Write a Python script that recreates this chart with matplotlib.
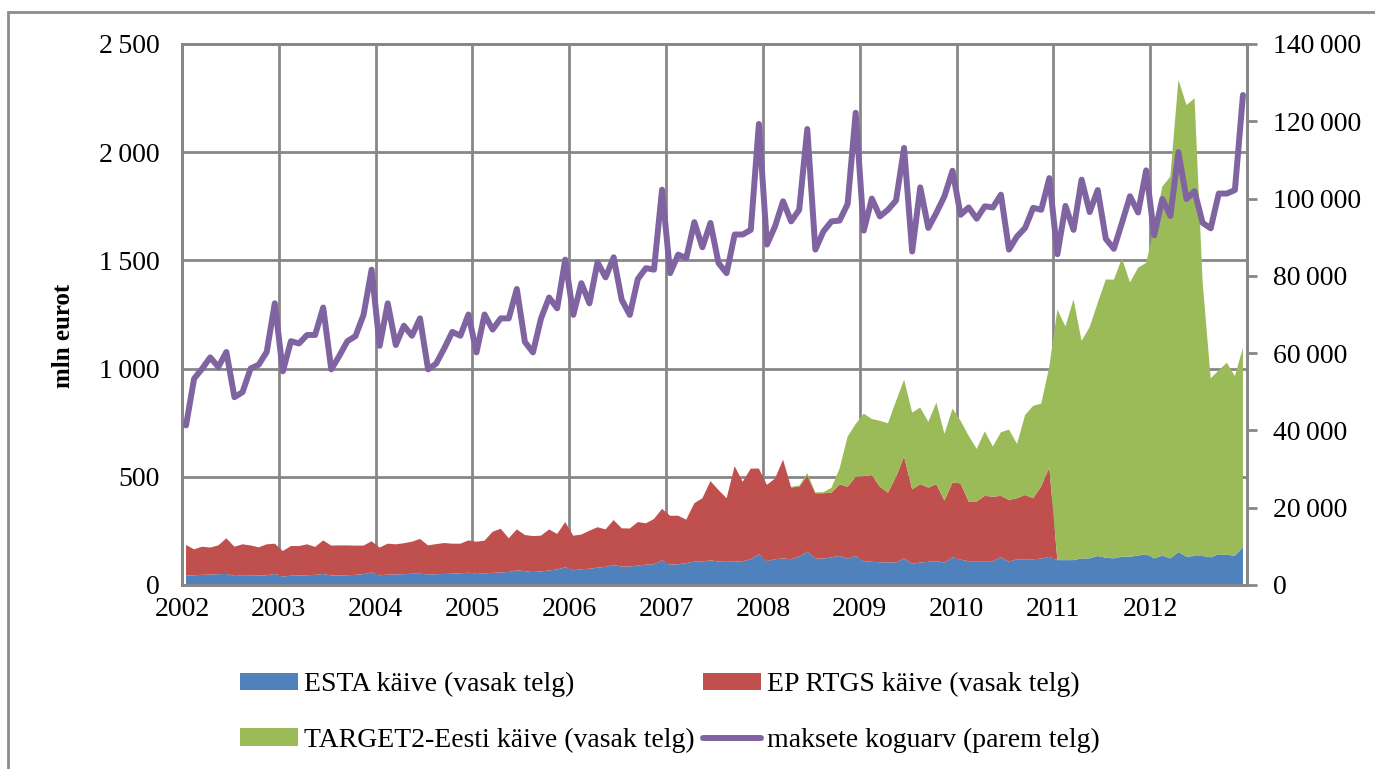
import matplotlib
matplotlib.use("Agg")
import matplotlib.pyplot as plt
from matplotlib.patches import Patch, Rectangle
from matplotlib.lines import Line2D
from matplotlib.ticker import FuncFormatter

plt.rcParams['font.family'] = ['Liberation Serif', 'DejaVu Serif']

years = ["2002", "2003", "2004", "2005", "2006", "2007",
         "2008", "2009", "2010", "2011", "2012"]

# monthly turnover, mln eurot (left axis)
esta = [43, 45, 47, 48, 50, 51, 42, 43, 43, 44, 45, 51,
        39, 43, 44, 45, 47, 51, 44, 44, 45, 47, 50, 58,
        45, 48, 49, 50, 52, 52, 49, 50, 51, 52, 54, 57,
        51, 54, 56, 58, 60, 68, 64, 60, 63, 67, 72, 82,
        68, 73, 75, 80, 84, 92, 85, 85, 90, 94, 96, 114,
        94, 96, 101, 108, 108, 114, 108, 107, 108, 110, 119, 142,
        110, 119, 123, 119, 131, 154, 122, 122, 128, 134, 122, 134,
        110, 107, 105, 105, 104, 123, 98, 104, 107, 110, 104, 128,
        117, 110, 110, 110, 110, 128, 108, 119, 119, 119, 122, 130,
        115, 115, 115, 123, 123, 134, 126, 123, 131, 131, 136, 142,
        123, 136, 123, 152, 131, 134, 134, 128, 142, 139, 136, 174]

ep_rtgs = [142, 120, 130, 125, 133, 165, 135, 145, 140, 130, 143, 140,
           118, 137, 136, 143, 129, 155, 138, 139, 138, 135, 132, 144,
           128, 143, 139, 143, 148, 161, 134, 139, 143, 139, 137, 149,
           149, 151, 190, 202, 156, 189, 167, 166, 165, 190, 164, 209,
           160, 160, 176, 187, 173, 208, 177, 176, 201, 191, 209, 238,
           226, 224, 201, 270, 293, 366, 331, 294, 441, 367, 419, 396,
           353, 373, 456, 332, 323, 351, 302, 302, 299, 331, 332, 366,
           393, 401, 349, 322, 396, 471, 344, 362, 343, 356, 286, 346,
           352, 276, 276, 302, 298, 284, 285, 282, 297, 282, 335, 413,
           0, 0, 0, 0, 0, 0, 0, 0, 0, 0, 0, 0,
           0, 0, 0, 0, 0, 0, 0, 0, 0, 0, 0, 0]

target2 = [0] * 72 + [
    0, 0, 0, 3, 5, 12, 4, 5, 22, 73, 232, 244,
    289, 259, 305, 320, 350, 355, 355, 354, 304, 377, 308, 341,
    290, 304, 243, 298, 232, 294, 325, 251, 370, 427, 381, 467,
    1157, 1080, 1205, 1005, 1069, 1170, 1286, 1288, 1379, 1267, 1330, 1347,
    1527, 1705, 1764, 2182, 2087, 2115, 1266, 827, 850, 888, 829, 922]

# number of payments (right axis)
koguarv = [41300, 53400, 56000, 58900, 56400, 60300, 48600, 49900, 56000, 57000, 60300, 72900,
           55300, 63100, 62500, 64700, 64700, 71800, 55800, 59300, 63100, 64400, 69900, 81600,
           61900, 72900, 62100, 67100, 64500, 69000, 55800, 57300, 61200, 65500, 64500, 70000,
           60200, 70000, 66100, 69000, 69000, 76600, 62900, 60200, 69000, 74400, 71600, 84200,
           69900, 78100, 72900, 83500, 79600, 84800, 73800, 69900, 79200, 82000, 81600, 102300,
           80700, 85500, 84600, 93900, 87400, 93700, 83300, 80700, 90700, 90700, 91900, 119300,
           88100, 92800, 99300, 94100, 97100, 118000, 86800, 91500, 94100, 94300, 98600, 122200,
           91700, 100000, 95400, 97100, 99500, 113100, 86300, 102900, 92400, 96300, 100600, 107200,
           95800, 97700, 94800, 98000, 97700, 101000, 86800, 90200, 92400, 97600, 97100, 105300,
           85600, 98100, 91900, 104900, 96500, 102200, 89600, 87000, 93700, 100600, 96400, 107300,
           90500, 99900, 95500, 112000, 99900, 101900, 93700, 92300, 101300, 101300, 102200, 126800]

c_blue = "#4F81BD"
c_red = "#C0504D"
c_green = "#9BBB59"
c_purple = "#8064A2"
c_grid = "#878787"

x = [i + 0.5 for i in range(len(esta))]

fig = plt.figure(figsize=(13.75, 7.69), dpi=100)
ax = fig.add_axes([182 / 1375, 1 - 585 / 769, 1065 / 1375, 541 / 769])

ax.stackplot(x, esta, ep_rtgs, target2, colors=[c_blue, c_red, c_green],
             linewidth=0, zorder=2)
ax.set_xlim(0, len(esta))
ax.set_ylim(0, 2500)
ax.set_yticks(range(0, 2501, 500))
ax.set_xticks(range(0, len(esta), 12))
ax.set_xticklabels(years)
ax.grid(True, color=c_grid, linewidth=2)
ax.set_axisbelow(True)

def thousands(v, pos):
    return f"{int(v):,}".replace(",", "\u2009")

ax.yaxis.set_major_formatter(FuncFormatter(thousands))
ax.tick_params(axis='y', length=0, pad=16, labelsize=20)
ax.tick_params(axis='x', length=0, pad=9, labelsize=20)
ax.set_ylabel("mln eurot", fontsize=18, fontweight='bold')
ax.yaxis.set_label_coords(-0.100, 0.46)
for s in ax.spines.values():
    s.set_color(c_grid)
    s.set_linewidth(2)

ax2 = ax.twinx()
ax2.plot(x, koguarv, color=c_purple, linewidth=4.3,
         solid_capstyle='round', solid_joinstyle='round', zorder=3)
ax2.set_ylim(0, 140000)
ax2.set_yticks(range(0, 140001, 20000))
ax2.yaxis.set_major_formatter(FuncFormatter(thousands))
ax2.tick_params(axis='y', length=7, width=2, color=c_grid, pad=12, labelsize=20)
for s in ax2.spines.values():
    s.set_color(c_grid)
    s.set_linewidth(2)

handles = [
    Patch(facecolor=c_blue, label="ESTA käive (vasak telg)"),
    Patch(facecolor=c_green, label="TARGET2-Eesti käive (vasak telg)"),
    Patch(facecolor=c_red, label="EP RTGS käive (vasak telg)"),
    Line2D([0], [0], color=c_purple, linewidth=4.3, solid_capstyle='round',
           label="maksete koguarv (parem telg)"),
]
fig.legend(handles=handles, ncol=2, loc='upper left',
           bbox_to_anchor=(240 / 1375, 1 - 672 / 769), frameon=False,
           fontsize=20, handlelength=2.1, handleheight=0.6,
           handletextpad=0.2, columnspacing=0.3, labelspacing=1.1,
           borderpad=0, borderaxespad=0)

fig.add_artist(Rectangle((8 / 1375, -0.05), 1.1, 1 - 12 / 769 + 0.05,
                         transform=fig.transFigure, fill=False,
                         edgecolor="#8c8c8c", linewidth=2))

fig.savefig("out.png", dpi=100)
